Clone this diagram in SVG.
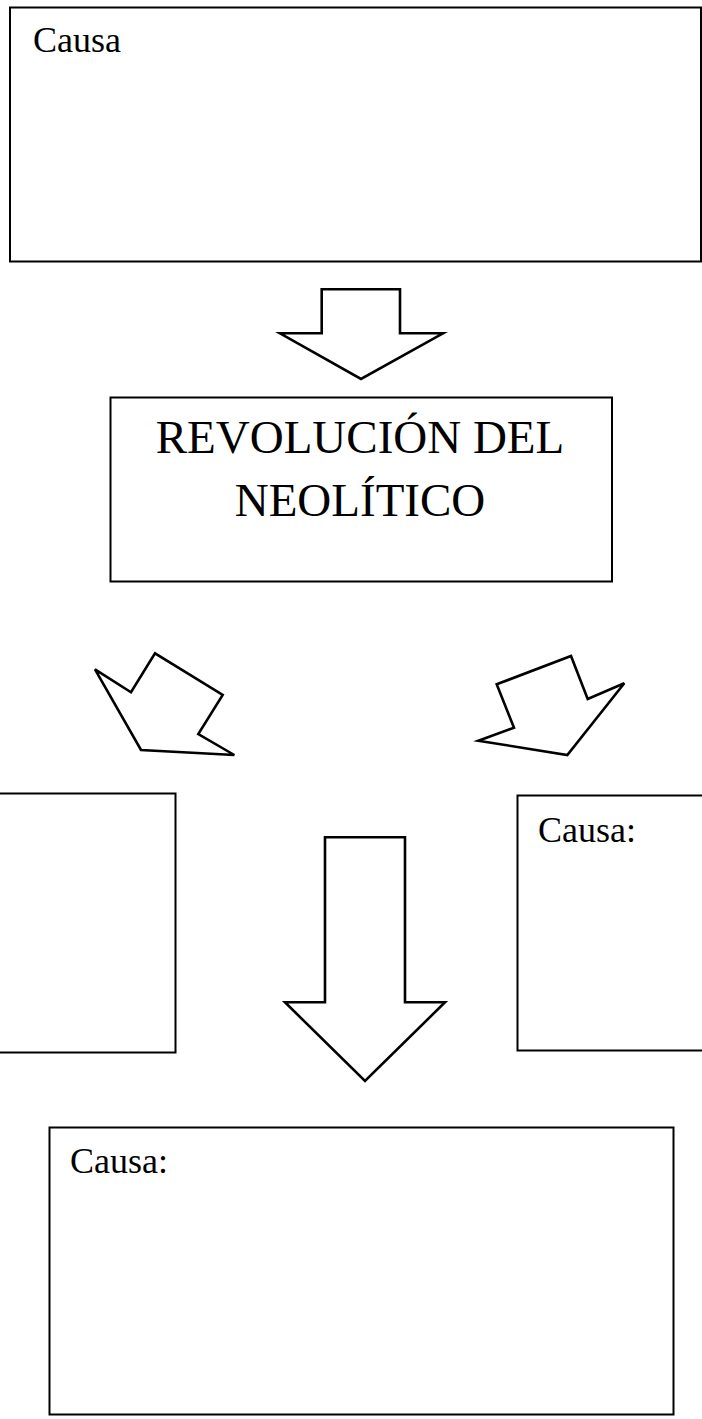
<svg xmlns="http://www.w3.org/2000/svg" width="702" height="1419" viewBox="0 0 702 1419">
<style>
.box{fill:#fff;stroke:#000;stroke-width:2}
.arr{fill:#fff;stroke:#000;stroke-width:2.6;stroke-linejoin:miter}
.t{font-family:"Liberation Serif","Times New Roman",serif;fill:#000}
</style>
<rect width="702" height="1419" fill="#fff"/>
<g id="node-top">
<rect class="box" x="10" y="7.5" width="691" height="254"/>
<text class="t" x="33" y="52" font-size="36">Causa</text>
</g>
<g id="node-center">
<rect class="box" x="110.5" y="397.5" width="501.5" height="184"/>
<text class="t" x="360" y="453" font-size="47" text-anchor="middle">REVOLUCIÓN DEL</text>
<text class="t" x="360" y="516" font-size="47" text-anchor="middle">NEOLÍTICO</text>
</g>
<g id="node-left">
<rect class="box" x="-5" y="793.5" width="180.5" height="259"/>
</g>
<g id="node-right">
<rect class="box" x="517.5" y="795.5" width="190" height="255"/>
<text class="t" x="538" y="842" font-size="36">Causa:</text>
</g>
<g id="node-bottom">
<rect class="box" x="49.5" y="1127.5" width="624" height="287"/>
<text class="t" x="70" y="1173" font-size="36">Causa:</text>
</g>
<g id="connectors">
<polygon class="arr" points="321.7,289.3 400,289.3 400,333.3 443,333.3 361,379 280,333.3 321.7,333.3"/>
<polygon class="arr" points="95,669.3 131,692.3 155,653.3 222.7,695 198.3,734 234.3,755 141,750"/>
<polygon class="arr" points="496.7,684.3 571,656 587.7,699 624.3,683.3 567.3,755 478.3,740.7 514,727.7"/>
<polygon class="arr" points="325,837.3 405,837.3 405,1002.3 445,1002.3 365,1081 285,1002.3 325,1002.3"/>
</g>
</svg>
